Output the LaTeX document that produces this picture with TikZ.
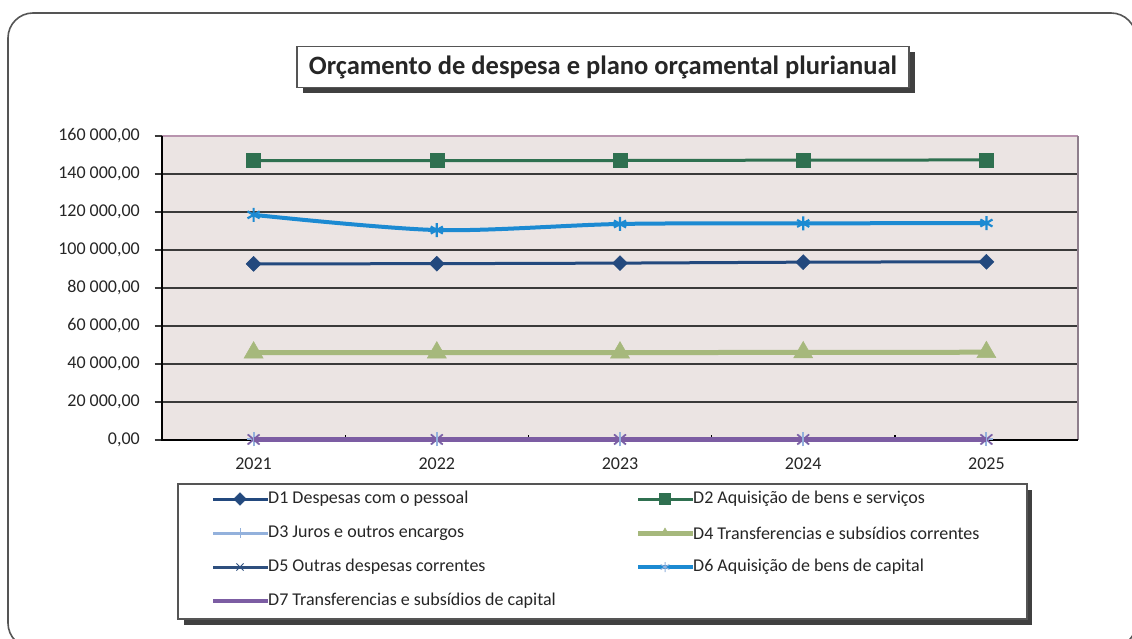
\documentclass[tikz,border=0pt]{standalone}
\usepackage{fontspec}
\setmainfont{Carlito}
\usetikzlibrary{plotmarks,shadows}
\definecolor{frameGray}{HTML}{555555}
\definecolor{shadowGray}{HTML}{404040}
\definecolor{plotBg}{HTML}{EBE4E3}
\definecolor{gridDark}{HTML}{3A3A3A}
\definecolor{topBorder}{HTML}{B894AE}
\definecolor{rightBorder}{HTML}{8E7E8C}
\definecolor{txtGray}{HTML}{262626}
\definecolor{cD1}{HTML}{23497E}
\definecolor{cD2}{HTML}{2F7050}
\definecolor{cD3}{HTML}{93B1DC}
\definecolor{cD4}{HTML}{A6B87C}
\definecolor{cD5}{HTML}{2E4F7E}
\definecolor{cD6}{HTML}{1C8AD2}
\definecolor{cD7}{HTML}{7C5DA3}
\tikzset{
  gridline/.style={gridDark, line width=1.4pt},
  axisline/.style={black, line width=1.4pt},
  axislabel/.style={font=\fontsize{18}{20}\selectfont, text=txtGray, inner sep=0pt},
  legtext/.style={font=\fontsize{18}{20}\selectfont, text=txtGray, anchor=west, inner sep=0pt},
  serieD1/.style={cD1, line width=3pt, mark=square*, mark options={rotate=45, fill=cD1, line width=0.5pt}},
  serieD2/.style={cD2, line width=3pt, mark=square*, mark options={fill=cD2, line width=0.5pt}},
  serieD3/.style={cD3, line width=3pt, mark=+, mark options={line width=2pt}},
  serieD4/.style={cD4, line width=5pt, mark=triangle*, mark options={fill=cD4, line width=0.5pt}},
  serieD5/.style={cD5, line width=3pt, mark=x, mark options={cD3!70!white, line width=1.6pt}},
  serieD6/.style={cD6, line width=4pt, mark=asterisk, mark options={line width=2.2pt}},
  serieD7/.style={cD7, line width=4.5pt},
}
\begin{document}
\begin{tikzpicture}[x=1pt,y=-1pt]
  \useasboundingbox (0,0) rectangle (1132,639);
  \fill[white] (0,0) rectangle (1132,639);
  \draw[frameGray, line width=1.6pt, rounded corners=25pt] (8,13) rectangle (1136,648);
  % title
  \node[draw=frameGray, line width=1.4pt, fill=white, minimum width=612pt, minimum height=41pt,
        drop shadow={shadow xshift=6pt, shadow yshift=-6pt, fill=shadowGray, opacity=1},
        font=\bfseries\fontsize{26.5}{30}\selectfont, text=txtGray] (title) at (603,67)
        {Orçamento de despesa e plano orçamental plurianual};
  % plot area
  \begin{scope}[shift={(162pt,-440pt)}, x=183.2pt, y=1.9pt]
    \fill[plotBg] (0,0) rectangle (5,160);
    \foreach \v/\t in {0/{0,00}, 20/{20 000,00}, 40/{40 000,00}, 60/{60 000,00}, 80/{80 000,00},
                       100/{100 000,00}, 120/{120 000,00}, 140/{140 000,00}, 160/{160 000,00}} {
      \draw[gridline] (-0.04,\v) -- (5,\v);
      \node[axislabel, anchor=east] (ylab\v) at ([xshift=-22pt]0,\v) {\t};
    }
    \draw[topBorder, line width=1.4pt] (0,160) -- (5,160);
    \draw[rightBorder, line width=1.4pt] (5,0) -- (5,160);
    \draw[axisline] (0,160) -- (0,0) -- (5,0);
    \foreach \i in {1,...,4}
      \draw[axisline] (\i,0) -- (\i,2.5);
    \foreach \i/\yr in {1/2021, 2/2022, 3/2023, 4/2024, 5/2025}
      \node[axislabel] (yr\yr) at ([yshift=-24pt]\i-0.5,0) {\yr};
    % series
    \draw[serieD2, mark size=7pt] plot coordinates {(0.5,147) (1.5,147) (2.5,147.1) (3.5,147.3) (4.5,147.4)};
    \draw[serieD6, mark size=7pt] plot[smooth, tension=0.5] coordinates {(0.5,118.5) (1.5,110.5) (2.5,113.7) (3.5,114) (4.5,114.2)};
    \draw[serieD1, mark size=5.3pt] plot coordinates {(0.5,92.7) (1.5,92.8) (2.5,93.1) (3.5,93.6) (4.5,93.8)};
    \draw[serieD4, mark size=11pt] plot coordinates {(0.5,46) (1.5,46) (2.5,46) (3.5,46.1) (4.5,46.2)};
    \draw[serieD3, mark size=7pt] plot coordinates {(0.5,0.3) (1.5,0.3) (2.5,0.3) (3.5,0.3) (4.5,0.3)};
    \draw[serieD5, mark size=7pt] plot coordinates {(0.5,0.3) (1.5,0.3) (2.5,0.3) (3.5,0.3) (4.5,0.3)};
    \draw[serieD7] (0.5,0.3) -- (4.5,0.3);
    \foreach \i in {1,...,5} {
      \draw[cD7, line width=1.6pt] (\i-0.5,0.3) ++(-6pt,-5pt) -- ++(12pt,10pt);
      \draw[cD7, line width=1.6pt] (\i-0.5,0.3) ++(-6pt,5pt) -- ++(12pt,-10pt);
      \draw[cD3, line width=1.6pt] (\i-0.5,0.3) ++(0,-7pt) -- ++(0,14pt);
    }
  \end{scope}
  % legend
  \fill[shadowGray] (184,490) rectangle (1032,625);
  \filldraw[fill=white, draw=frameGray, line width=1.4pt] (178,484) rectangle (1027,619);
  \node[legtext] (leg1) at (268,499) {D1 Despesas com o pessoal};
  \node[legtext] (leg2) at (693,499) {D2 Aquisição de bens e serviços};
  \node[legtext] (leg3) at (268,533) {D3 Juros e outros encargos};
  \node[legtext] (leg4) at (693,533) {D4 Transferencias e subsídios correntes};
  \node[legtext] (leg5) at (268,567) {D5 Outras despesas correntes};
  \node[legtext] (leg6) at (693,567) {D6 Aquisição de bens de capital};
  \node[legtext] (leg7) at (268,601) {D7 Transferencias e subsídios de capital};
  \draw[serieD1, mark size=4.5pt, mark indices={2}] plot coordinates {(213,499) (240,499) (leg1.west)};
  \draw[serieD2, mark size=5.5pt, mark indices={2}] plot coordinates {(638,499) (665,499) (leg2.west)};
  \draw[serieD3, mark size=5pt, mark indices={2}, mark options={line width=1pt}] plot coordinates {(213,533) (240,533) (leg3.west)};
  \draw[serieD4, mark size=5pt, mark indices={2}] plot coordinates {(638,533) (665,533) (leg4.west)};
  \draw[serieD5, mark size=5pt, mark indices={2}, mark options={line width=1pt}] plot coordinates {(213,567) (240,567) (leg5.west)};
  \draw[serieD6, mark size=5pt, mark indices={2}, mark options={cD3, line width=1pt}] plot coordinates {(638,567) (665,567) (leg6.west)};
  \draw[serieD7] (213,601) -- (leg7.west);
\end{tikzpicture}
\end{document}
